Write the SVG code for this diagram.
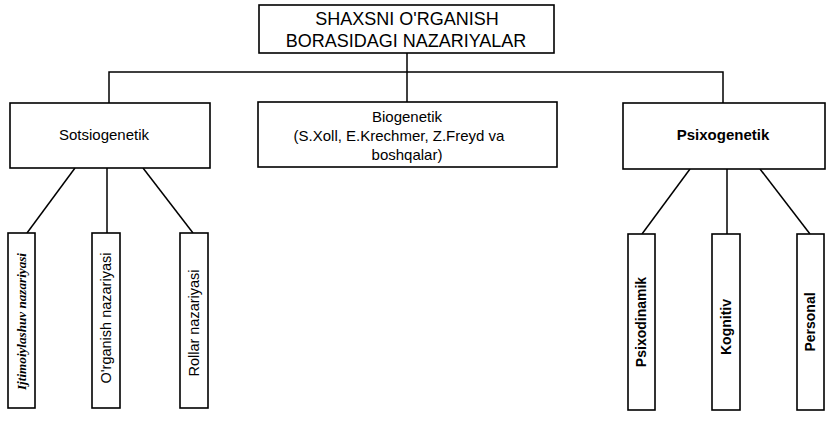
<svg xmlns="http://www.w3.org/2000/svg" width="826" height="421" viewBox="0 0 826 421">
<style>
.box{fill:#fff;stroke:#000;stroke-width:1.6}
.ln{fill:none;stroke:#000;stroke-width:1.5}
text{font-family:"Liberation Sans",Arial,sans-serif;fill:#000;text-anchor:middle}
.t18{font-size:18px}
.t15{font-size:15px}
.b15{font-size:15px;font-weight:bold}
.v{font-size:14.5px}
.vb{font-size:14px;font-weight:bold}
.vs{font-family:"Liberation Serif","Times New Roman",serif;font-size:13px;font-weight:bold;font-style:italic;text-anchor:start}
</style>
<rect width="826" height="421" fill="#fff"/>
<g id="connectors">
<polyline class="ln" points="407,53 407,102"/>
<polyline class="ln" points="109,103 109,72 723,72 723,103"/>
<line class="ln" x1="75" y1="168" x2="27" y2="233"/>
<line class="ln" x1="107" y1="168" x2="107" y2="233"/>
<line class="ln" x1="143" y1="168" x2="193" y2="233"/>
<line class="ln" x1="690" y1="169" x2="642" y2="234"/>
<line class="ln" x1="727" y1="169" x2="727" y2="234"/>
<line class="ln" x1="760" y1="169" x2="810" y2="234"/>
</g>
<g id="root">
<rect class="box" x="259" y="5" width="295" height="48"/>
<text class="t18" x="407" y="25">SHAXSNI O'RGANISH</text>
<text class="t18" x="406" y="47">BORASIDAGI NAZARIYALAR</text>
</g>
<g id="sotsiogenetik">
<rect class="box" x="10" y="103" width="200" height="65"/>
<text class="t15" x="104" y="140">Sotsiogenetik</text>
</g>
<g id="biogenetik">
<rect class="box" x="258" y="102" width="299" height="65"/>
<text class="t15" x="407" y="122">Biogenetik</text>
<text class="t15" x="399" y="141">(S.Xoll, E.Krechmer, Z.Freyd va</text>
<text class="t15" x="407" y="160">boshqalar)</text>
</g>
<g id="psixogenetik">
<rect class="box" x="623" y="103" width="202" height="66"/>
<text class="b15" x="723" y="140">Psixogenetik</text>
</g>
<g id="ijtimoiylashuv">
<rect class="box" x="8" y="233" width="27" height="175"/>
<text class="vs" transform="translate(26,390) rotate(-90)" textLength="137" lengthAdjust="spacingAndGlyphs">Ijtimoiylashuv nazariyasi</text>
</g>
<g id="organish">
<rect class="box" x="92" y="233" width="28" height="175"/>
<text class="v" transform="translate(106,318) rotate(-90)" dy="0.35em">O'rganish nazariyasi</text>
</g>
<g id="rollar">
<rect class="box" x="180" y="233" width="28" height="175"/>
<text class="v" transform="translate(194,323) rotate(-90)" dy="0.35em">Rollar nazariyasi</text>
</g>
<g id="psixodinamik">
<rect class="box" x="628" y="234" width="27" height="176"/>
<text class="vb" transform="translate(641.5,322) rotate(-90)" dy="0.35em">Psixodinamik</text>
</g>
<g id="kognitiv">
<rect class="box" x="712" y="234" width="28" height="176"/>
<text class="vb" transform="translate(726,327) rotate(-90)" dy="0.35em">Kognitiv</text>
</g>
<g id="personal">
<rect class="box" x="797" y="234" width="27" height="176"/>
<text class="vb" transform="translate(810.5,322) rotate(-90)" dy="0.35em">Personal</text>
</g>
</svg>
